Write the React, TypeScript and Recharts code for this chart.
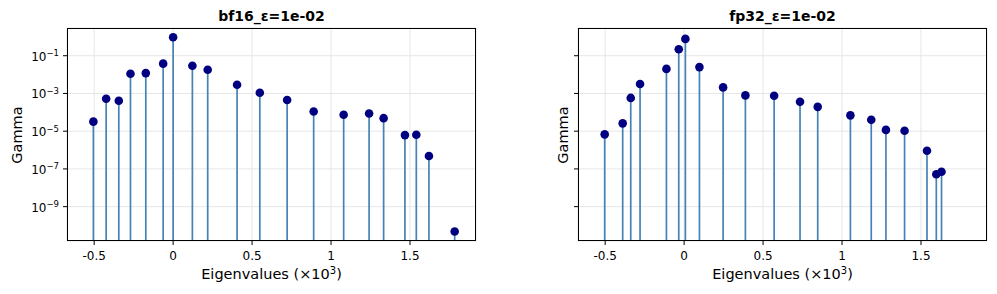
import React from "react";
import {
  ScatterChart,
  Scatter,
  XAxis,
  YAxis,
  CartesianGrid,
} from "recharts";

// eigenvalues (x10^3) and gamma
const bf16Eig = [
  -0.505, -0.424, -0.344, -0.27, -0.173, -0.063, 0.0, 0.122, 0.219, 0.405,
  0.549, 0.722, 0.89, 1.08, 1.241, 1.333, 1.468, 1.54, 1.62, 1.783,
];
const bf16Gamma = [
  3.2e-5, 5.2e-4, 4.1e-4, 1.1e-2, 1.2e-2, 3.8e-2, 0.95, 2.95e-2, 1.8e-2,
  2.9e-3, 1.1e-3, 4.5e-4, 1.1e-4, 7.4e-5, 8.7e-5, 4.9e-5, 6.2e-6, 6.5e-6,
  4.8e-7, 4.8e-11,
];
const fp32Eig = [
  -0.503, -0.389, -0.338, -0.279, -0.112, -0.034, 0.008, 0.097, 0.247, 0.388,
  0.57, 0.734, 0.846, 1.053, 1.185, 1.278, 1.396, 1.538, 1.597, 1.63,
];
const fp32Gamma = [
  6.8e-6, 2.6e-5, 5.8e-4, 3.2e-3, 2.0e-2, 0.22, 0.78, 2.5e-2, 2.1e-3, 7.9e-4,
  7.6e-4, 3.6e-4, 1.95e-4, 6.9e-5, 4.0e-5, 1.17e-5, 1.05e-5, 9.1e-7, 5.2e-8,
  7.1e-8,
];
const xTicks = [-0.5, 0, 0.5, 1, 1.5];
const yTicks = [1e-1, 1e-3, 1e-5, 1e-7, 1e-9];

const FONT = "DejaVu Sans";
const X_DOMAIN: [number, number] = [-0.672, 1.918];
const Y_DOMAIN: [number, number] = [1.51e-11, 2.95];
const PLOT_TOP = 28;
const PLOT_BOTTOM = 241;

const toRows = (xs: number[], ys: number[]) =>
  xs.map((x, i) => ({ x, y: ys[i] }));

const Stem = (props: any) => {
  const { cx, cy } = props;
  if (cx == null || cy == null) return <g />;
  return (
    <g>
      <line x1={cx} x2={cx} y1={cy} y2={PLOT_BOTTOM} stroke="#4682b4" strokeWidth={1.7} />
      <circle cx={cx} cy={cy} r={4.3} fill="#000080" />
    </g>
  );
};

const LogTick = (props: any) => {
  const { x, y, payload } = props;
  const exp = Math.round(Math.log10(payload.value));
  return (
    <text x={x} y={y} dy={5} textAnchor="end" fontSize={12} fill="#000" fontFamily={FONT}>
      <tspan>10</tspan>
      <tspan dy={-4.5} fontSize={8.5}>
        {exp < 0 ? "\u2212" : ""}
        {Math.abs(exp)}
      </tspan>
    </text>
  );
};

const NoTick = () => <g />;

type PanelProps = {
  title: string;
  rows: { x: number; y: number }[];
  left: number;
  width: number;
  axisWidth: number;
  rightMargin: number;
  showYLabels: boolean;
  ylabelX: number;
};

const Panel = ({ title, rows, left, width, axisWidth, rightMargin, showYLabels, ylabelX }: PanelProps) => {
  const plotW = width - axisWidth - rightMargin;
  const cx = axisWidth + plotW / 2;
  return (
    <div style={{ position: "absolute", left, top: 0, width, height: 294 }}>
      <ScatterChart
        width={width}
        height={294}
        margin={{ top: PLOT_TOP, right: rightMargin, bottom: 23, left: 0 }}
      >
        <CartesianGrid stroke="#e6e6e6" strokeWidth={1} />
        <XAxis
          type="number"
          dataKey="x"
          domain={X_DOMAIN}
          allowDataOverflow
          ticks={xTicks}
          tickFormatter={(v) => String(v)}
          height={30}
          axisLine={false}
          stroke="#000"
          tickSize={4}
          tickMargin={6}
          tick={{ fill: "#000", fontSize: 12, fontFamily: FONT }}
        />
        <YAxis
          type="number"
          dataKey="y"
          scale="log"
          domain={Y_DOMAIN}
          allowDataOverflow
          ticks={yTicks}
          width={axisWidth}
          axisLine={false}
          stroke="#000"
          tickSize={4}
          tickMargin={4}
          tick={showYLabels ? <LogTick /> : <NoTick />}
        />
        <Scatter data={rows} shape={<Stem />} isAnimationActive={false} />
      </ScatterChart>
      <svg
        width={width}
        height={294}
        style={{ position: "absolute", left: 0, top: 0, pointerEvents: "none" }}
      >
        <rect
          x={axisWidth + 0.5}
          y={PLOT_TOP + 0.5}
          width={plotW - 1}
          height={PLOT_BOTTOM - PLOT_TOP - 1}
          fill="none"
          stroke="#000"
          strokeWidth={1}
        />
        <text x={cx} y={20.5} textAnchor="middle" fontSize={14} fontWeight="bold" fontFamily={FONT} fill="#000">
          {title}
        </text>
        <text x={cx} y={279} textAnchor="middle" fontSize={14.5} fontFamily={FONT} fill="#000">
          Eigenvalues (×10
          <tspan dy={-5.5} fontSize={10}>3</tspan>
          <tspan dy={5.5}>)</tspan>
        </text>
        <text
          x={ylabelX}
          y={135}
          transform={`rotate(-90, ${ylabelX}, 135)`}
          textAnchor="middle"
          fontSize={14.5}
          fontFamily={FONT}
          fill="#000"
        >
          Gamma
        </text>
      </svg>
    </div>
  );
};

export default function App() {
  return (
    <div style={{ position: "absolute", left: 0, top: 0, width: 997, height: 294, background: "#fff" }}>
      <Panel
        title="bf16_ε=1e-02"
        rows={toRows(bf16Eig, bf16Gamma)}
        left={0}
        width={497}
        axisWidth={67}
        rightMargin={21}
        showYLabels
        ylabelX={21.5}
      />
      <Panel
        title="fp32_ε=1e-02"
        rows={toRows(fp32Eig, fp32Gamma)}
        left={497}
        width={500}
        axisWidth={81}
        rightMargin={10}
        showYLabels={false}
        ylabelX={70.5}
      />
    </div>
  );
}
